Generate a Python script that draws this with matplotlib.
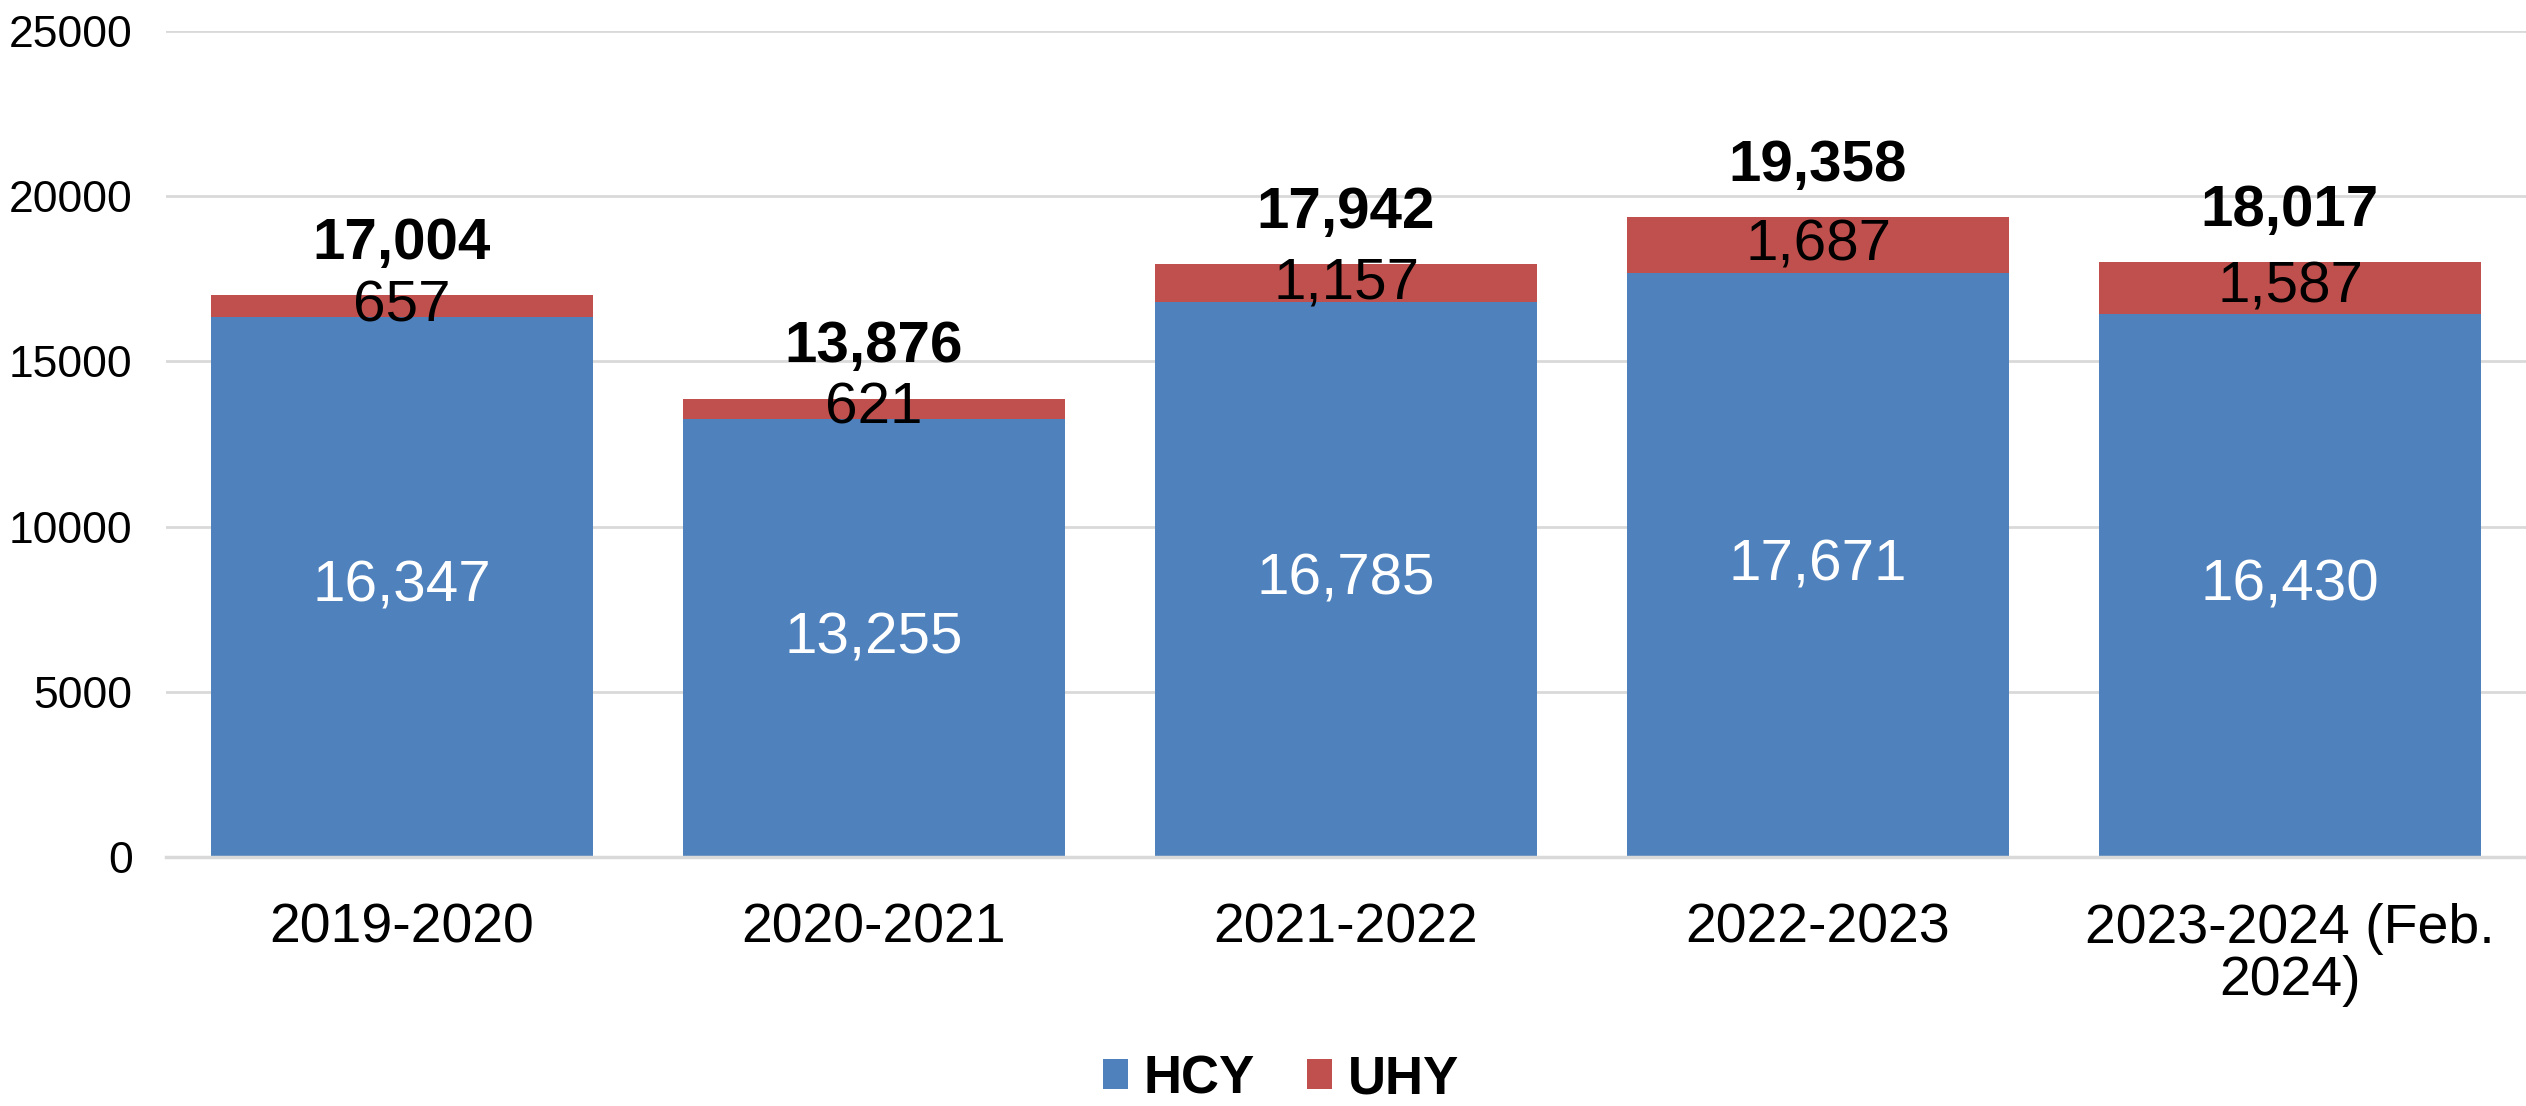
import matplotlib
matplotlib.use("Agg")
import matplotlib.pyplot as plt

# data
years = ["2019-2020", "2020-2021", "2021-2022", "2022-2023", "2023-2024 (Feb.\n2024)"]
hcy = [16347, 13255, 16785, 17671, 16430]
uhy = [657, 621, 1157, 1687, 1587]
totals = [17004, 13876, 17942, 19358, 18017]

blue = "#4F81BD"
red = "#C0504D"
grid = "#D9D9D9"

plt.rcParams["font.family"] = ["Liberation Sans", "DejaVu Sans"]

fig = plt.figure(figsize=(25.26, 11.06), dpi=100)
ax = fig.add_axes([166 / 2526, 1 - 857 / 1106, 1 - 166 / 2526, (857 - 31) / 1106])

x = list(range(len(years)))
b1 = ax.bar(x, hcy, width=0.81, color=blue, label="HCY", zorder=2)
b2 = ax.bar(x, uhy, width=0.81, bottom=hcy, color=red, label="UHY", zorder=2)

# labels inside the segments
for i in x:
    ax.text(i, hcy[i] / 2, f"{hcy[i]:,}", ha="center", va="center",
            color="white", fontsize=42, zorder=3)
    ax.text(i, hcy[i] + uhy[i] / 2, f"{uhy[i]:,}", ha="center", va="center",
            color="black", fontsize=42, zorder=3)
    # total on top
    ax.annotate(f"{totals[i]:,}", (i, hcy[i] + uhy[i]), xytext=(0, 26),
                textcoords="offset points", ha="center", va="baseline",
                fontsize=42, fontweight="bold", zorder=3)

ax.set_xlim(-0.5, len(years) - 0.5)
ax.set_ylim(0, 25000)
ax.set_yticks([0, 5000, 10000, 15000, 20000, 25000])
ax.set_xticks(x)
ax.set_xticklabels(years, fontsize=40, linespacing=1.0)
ax.tick_params(axis="y", labelsize=32, length=0, pad=24)
ax.tick_params(axis="x", length=0, pad=33)

ax.grid(axis="y", color=grid, linewidth=2.0)
ax.set_axisbelow(True)
for s in ["top", "right", "left"]:
    ax.spines[s].set_visible(False)
ax.spines["bottom"].set_color(grid)
ax.spines["bottom"].set_linewidth(2.5)

fig.legend(handles=[b1, b2], loc="center", bbox_to_anchor=(1281 / 2526, 1 - 1079 / 1106),
           ncol=2, frameon=False, prop={"size": 38, "weight": "bold"},
           handlelength=0.47, handleheight=0.5, handletextpad=0.3, columnspacing=1.0)

fig.savefig("out.png", dpi=100)
